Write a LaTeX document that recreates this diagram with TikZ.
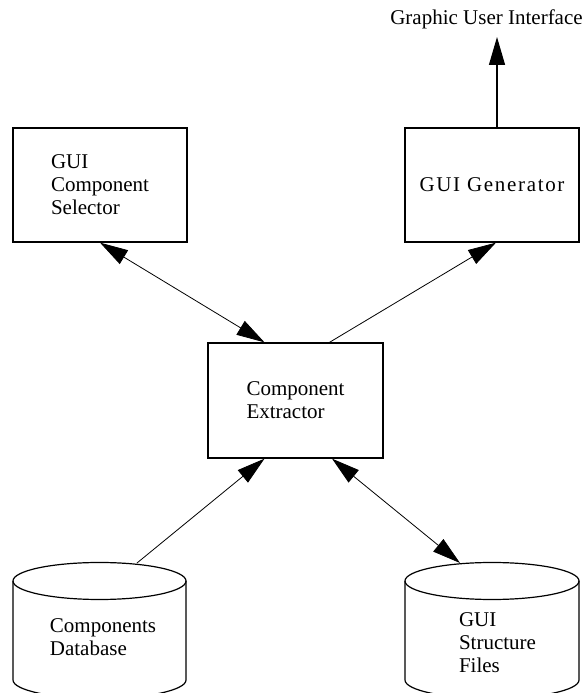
\documentclass[tikz,border=0pt]{standalone}
\usepackage{fontspec}
\setmainfont{Liberation Serif}
\usetikzlibrary{arrows.meta}

\tikzset{
  txt/.style={align=left,inner sep=0pt,font=\fontsize{21}{23}\selectfont},
  box/.style={txt,draw,line width=1.3pt,minimum width=174pt,minimum height=114pt},
  cyl/.style={line width=1.2pt},
  link/.style={line width=0.8pt}
}

\begin{document}
\begin{tikzpicture}[x=1pt,y=1pt,>={Triangle[length=28pt,width=16pt]}]
      \useasboundingbox (0,0) rectangle (588,693);
      \clip (0,0) rectangle (588,693);
      % boxes
      \node[box] (sel) at (100,508) {GUI\\Component\\Selector};
      \node[box] (gen) at (492,508) {\addfontfeatures{LetterSpace=8}GUI Generator};
      \node[box,minimum width=175pt,minimum height=115pt] (ext) at (295.5,292.5) {Component\\Extractor};
      \node[txt,anchor=base] (gui) at (486.5,668) {Graphic User Interface};
      % databases
      \draw[cyl] (99.5,112) ellipse [x radius=86.5,y radius=18.5];
      \draw[cyl] (13,112) -- (13,13) arc[start angle=180,end angle=360,x radius=86.5,y radius=18.5] -- (186,112);
      \node[txt] (db) at (103,56) {Components\\Database};
      \draw[cyl] (492,112) ellipse [x radius=87,y radius=18.5];
      \draw[cyl] (405,112) -- (405,13) arc[start angle=180,end angle=360,x radius=87,y radius=18.5] -- (579,112);
      \node[txt] (sf) at (497.5,50) {GUI\\Structure\\Files};
      % connectors
      \coordinate (guitop) at (497,656);
      \coordinate (dbtop) at (137,130);
      \coordinate (sftop) at (460,130);
      \draw[line width=1.3pt,->] ([xshift=5pt]gen.north) -- (guitop);
      \draw[link,<->] (sel.south) -- ([xshift=-31pt]ext.north);
      \draw[link,->] ([xshift=34pt]ext.north) -- ([xshift=4pt]gen.south);
      \draw[link,->] (dbtop) -- ([xshift=-31pt]ext.south);
      \draw[link,<->] ([xshift=36.5pt]ext.south) -- (sftop);
    \end{tikzpicture}
\end{document}
